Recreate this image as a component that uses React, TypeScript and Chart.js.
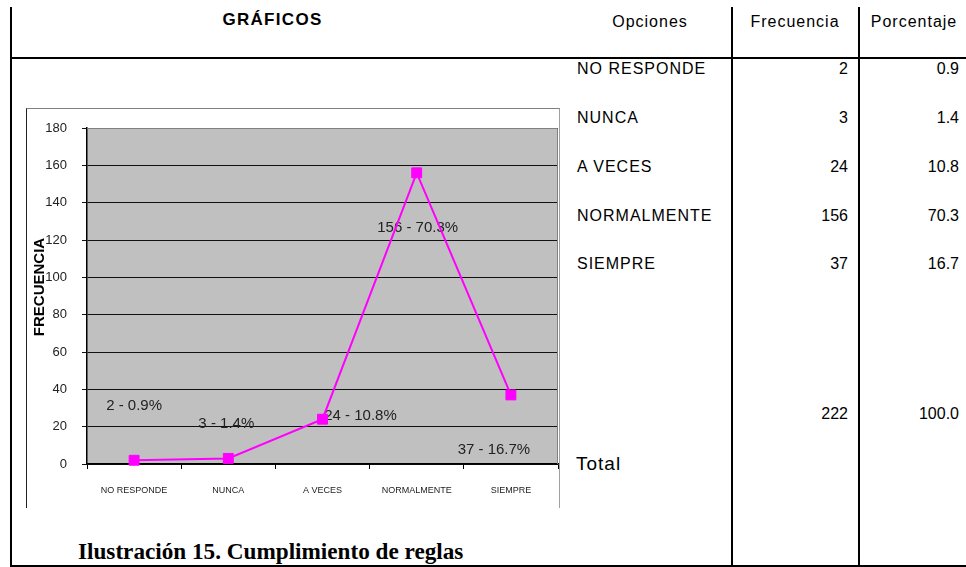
import React, { useEffect, useRef } from 'react';
import { Chart, registerables } from 'chart.js';

Chart.register(...registerables);

// ---- data ----
const categories = ['NO RESPONDE', 'NUNCA', 'A VECES', 'NORMALMENTE', 'SIEMPRE'];
const frequencies = [2, 3, 24, 156, 37];
const percentages = [0.9, 1.4, 10.8, 70.3, 16.7];
const totalFrequency = 222;
const totalPercentage = 100.0;
const yMin = 0;
const yMax = 180;
const yStep = 20;
const yTitle = 'FRECUENCIA';
const pointLabels = frequencies.map((f, i) => `${f} - ${percentages[i].toFixed(1)}%`);
// label placement relative to each point (px)
const labelOffsets: [number, number][] = [[0, -54], [-2, -35], [38, -3], [1, 55], [-17, 55]];

const SANS = "'Liberation Sans', Arial, Helvetica, sans-serif";
const SERIF = "'Liberation Serif', 'Times New Roman', serif";

const plotBackground = {
  id: 'plotBackground',
  beforeDraw(chart: any) {
    const { ctx, chartArea: a } = chart;
    ctx.save();
    ctx.fillStyle = '#C0C0C0';
    ctx.fillRect(a.left, a.top, a.right - a.left, a.bottom - a.top);
    ctx.restore();
  },
  beforeDatasetsDraw(chart: any) {
    const { ctx, chartArea: a } = chart;
    ctx.save();
    ctx.strokeStyle = '#808080';
    ctx.lineWidth = 1;
    ctx.beginPath();
    ctx.moveTo(a.left, a.top + 0.5);
    ctx.lineTo(a.right - 0.5, a.top + 0.5);
    ctx.lineTo(a.right - 0.5, a.bottom);
    ctx.stroke();
    // axis title
    ctx.save();
    ctx.fillStyle = '#000';
    ctx.font = `bold 15px ${SANS}`;
    ctx.textAlign = 'center';
    ctx.textBaseline = 'middle';
    ctx.translate(13, (a.top + a.bottom) / 2 - 9);
    ctx.rotate(-Math.PI / 2);
    ctx.fillText(yTitle, 0, 0);
    ctx.restore();
    // data labels (drawn under the line, as in the reference)
    const meta = chart.getDatasetMeta(0);
    ctx.fillStyle = '#222';
    ctx.font = `15px ${SANS}`;
    ctx.textAlign = 'center';
    ctx.textBaseline = 'middle';
    meta.data.forEach((el: any, i: number) => {
      const [dx, dy] = labelOffsets[i];
      ctx.fillText(pointLabels[i], el.x + dx, el.y + dy);
    });
    ctx.restore();
  },
};

function ChartBox() {
  const ref = useRef<HTMLCanvasElement>(null);
  useEffect(() => {
    if (!ref.current) return;
    const chart = new Chart(ref.current, {
      type: 'line',
      data: {
        labels: categories,
        datasets: [
          {
            data: frequencies,
            borderColor: '#FF00FF',
            backgroundColor: '#FF00FF',
            borderWidth: 2,
            pointStyle: 'rect',
            pointRadius: 7,
            pointBorderWidth: 1,
            pointBorderColor: '#FF00FF',
            pointBackgroundColor: '#FF00FF',
            tension: 0,
            fill: false,
            clip: false as any,
          },
        ],
      },
      options: {
        responsive: false,
        animation: false,
        layout: { autoPadding: false, padding: { top: 19, right: 1, left: 0, bottom: 0 } },
        plugins: { legend: { display: false }, tooltip: { enabled: false } },
        scales: {
          x: {
            offset: true,
            grid: {
              display: true,
              offset: true,
              drawOnChartArea: false,
              drawTicks: true,
              tickLength: 5,
              color: '#000',
              lineWidth: 1,
            },
            border: { display: true, color: '#000', width: 1.5 },
            ticks: {
              font: { family: SANS, size: 9 },
              color: '#222',
              padding: 16,
              maxRotation: 0,
              autoSkip: false,
            },
            afterFit: (s: any) => {
              s.height = 44;
              s.paddingLeft = 0;
              s.paddingRight = 0;
            },
          } as any,
          y: {
            min: yMin,
            max: yMax,
            ticks: {
              stepSize: yStep,
              font: { family: SANS, size: 13 },
              color: '#222',
              padding: 15,
            },
            grid: { color: '#111', lineWidth: 1, tickLength: 5 },
            border: { display: true, color: '#000', width: 1.5 },
            title: { display: false },
            afterFit: (s: any) => {
              s.width = 60;
              s.paddingTop = 0;
              s.paddingBottom = 0;
            },
          } as any,
        },
      },
      plugins: [plotBackground],
    });
    return () => chart.destroy();
  }, []);
  return <canvas ref={ref} width={532} height={399} style={{ display: 'block', width: 532, height: 399 }} />;
}

type TProps = {
  x: number;
  baseline: number;
  size: number;
  align?: 'left' | 'right' | 'center';
  weight?: number | string;
  serif?: boolean;
  spacing?: number;
  children: React.ReactNode;
};

function T({ x, baseline, size, align = 'left', weight = 'normal', serif = false, spacing = 0, children }: TProps) {
  const k = serif ? 0.8375 : 0.8465;
  const style: React.CSSProperties = {
    position: 'absolute',
    top: baseline - size * k,
    fontSize: size,
    lineHeight: `${size}px`,
    fontFamily: serif ? SERIF : SANS,
    fontWeight: weight as any,
    letterSpacing: spacing,
    whiteSpace: 'nowrap',
    color: '#000',
  };
  if (align === 'left') style.left = x;
  else if (align === 'right') {
    style.right = 966 - x;
  } else {
    style.left = x - 200;
    style.width = 400;
    style.textAlign = 'center';
  }
  return <div style={style}>{children}</div>;
}

const line = (left: number, top: number, width: number, height: number): React.CSSProperties => ({
  position: 'absolute',
  left,
  top,
  width,
  height,
  background: '#000',
});

export default function App() {
  const rowBase = 75;
  const rowStep = 48.75;
  return (
    <div
      style={{
        position: 'absolute',
        left: 0,
        top: 0,
        width: 966,
        height: 567,
        background: '#fff',
        overflow: 'hidden',
      }}
    >
      {/* table rules */}
      <div style={line(10, 7, 2, 560)} />
      <div style={line(10, 57, 956, 2)} />
      <div style={line(731, 7, 2, 560)} />
      <div style={line(858, 7, 2, 560)} />
      <div style={line(10, 565, 956, 2)} />

      {/* header */}
      <T x={272.5} baseline={25} size={17} align="center" weight="bold" spacing={1.3}>
        GRÁFICOS
      </T>
      <T x={650} baseline={28} size={16} align="center" spacing={1}>
        Opciones
      </T>
      <T x={795} baseline={28} size={16} align="center" spacing={1}>
        Frecuencia
      </T>
      <T x={914} baseline={28} size={16} align="center" spacing={1}>
        Porcentaje
      </T>

      {/* rows */}
      {categories.map((c, i) => (
        <React.Fragment key={c}>
          <T x={577} baseline={rowBase + i * rowStep} size={16} spacing={1}>
            {c}
          </T>
          <T x={848} baseline={rowBase + i * rowStep} size={16} align="right">
            {frequencies[i]}
          </T>
          <T x={959} baseline={rowBase + i * rowStep} size={16} align="right">
            {percentages[i].toFixed(1)}
          </T>
        </React.Fragment>
      ))}
      <T x={848} baseline={420} size={16} align="right">
        {totalFrequency}
      </T>
      <T x={959} baseline={420} size={16} align="right">
        {totalPercentage.toFixed(1)}
      </T>
      <T x={576} baseline={470} size={19} spacing={1}>
        Total
      </T>

      {/* chart */}
      <div
        style={{
          position: 'absolute',
          left: 26,
          top: 108,
          borderLeft: '1px solid #222',
          borderTop: '1px solid #808080',
          borderRight: '1px solid #a0a0a0',
        }}
      >
        <ChartBox />
      </div>

      {/* caption */}
      <T x={78} baseline={559} size={23.2} weight="bold" serif>
        Ilustración 15. Cumplimiento de reglas
      </T>
    </div>
  );
}
